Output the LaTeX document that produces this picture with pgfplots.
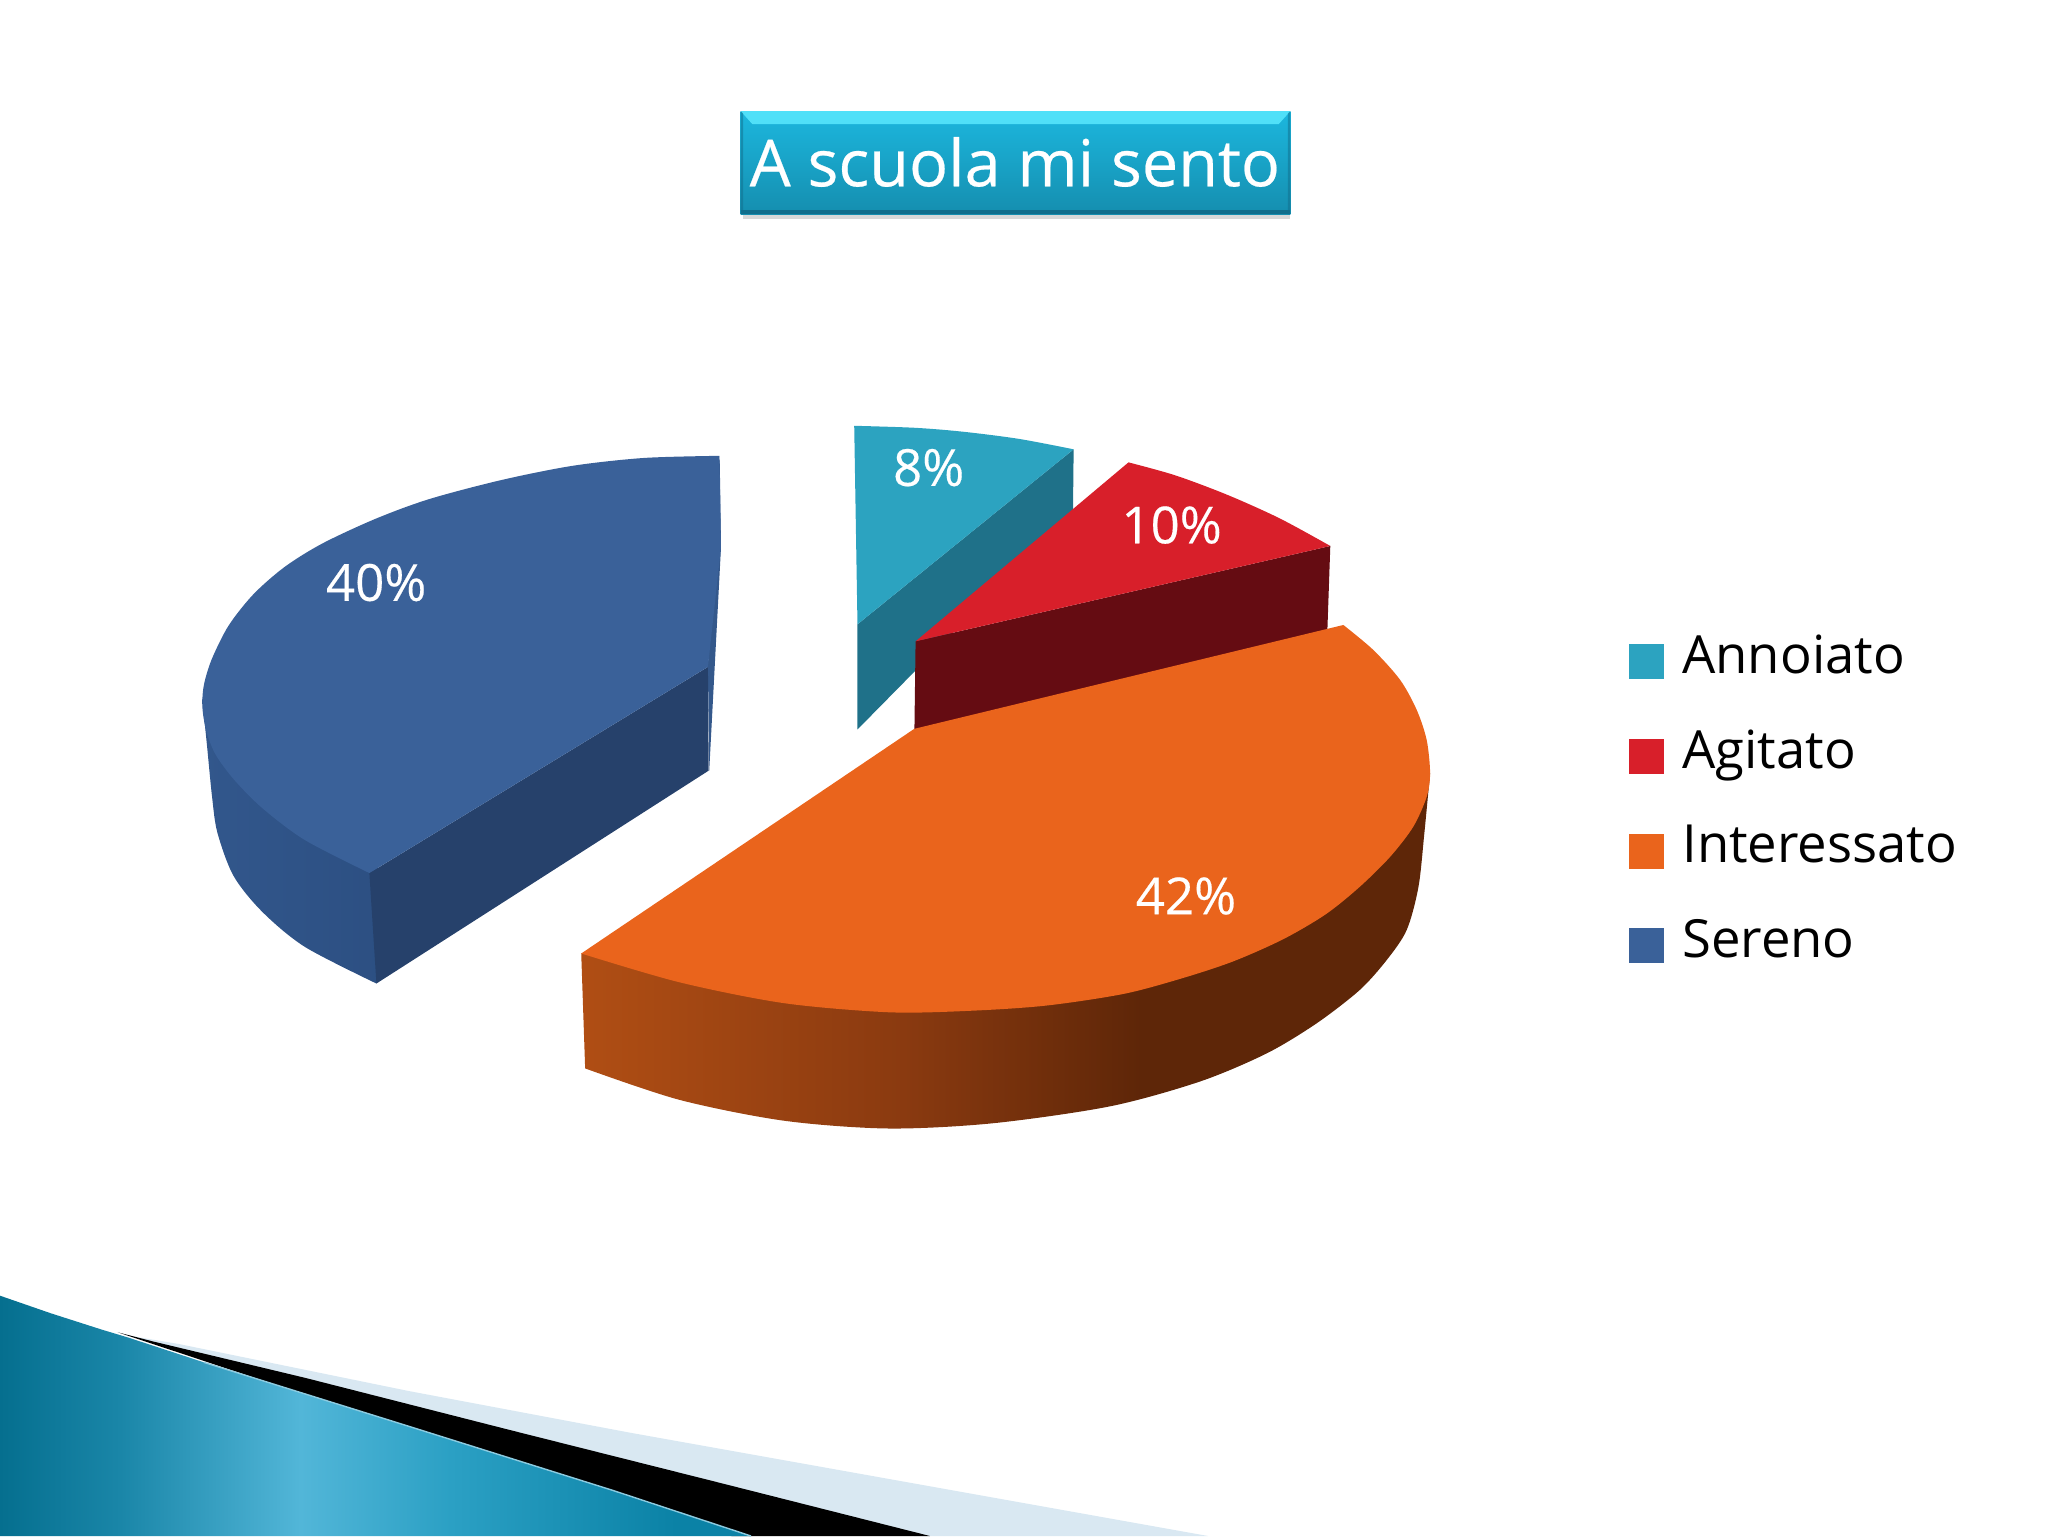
\documentclass[border=0pt]{standalone}
\usepackage{pgfplots}
\pgfplotsset{compat=1.18}
\usepackage{fontspec}
\setmainfont{Open Sans}
\newfontfamily\medfont[FakeBold=0.35]{Open Sans}
\definecolor{tealT}{HTML}{2CA3C0}
\definecolor{tealS}{HTML}{1F7189}
\definecolor{redT}{HTML}{D81F2A}
\definecolor{redS}{HTML}{650C12}
\definecolor{orangeT}{HTML}{EA641C}
\definecolor{blueT}{HTML}{3A6199}
\definecolor{blueS}{HTML}{26416B}
\definecolor{blueM}{HTML}{34588B}
\definecolor{band}{HTML}{D9E8F2}
\definecolor{boxA}{HTML}{1CB7DE}
\definecolor{boxB}{HTML}{158EAF}
\definecolor{boxL}{HTML}{50E0F8}
\definecolor{boxD}{HTML}{116E8C}
\definecolor{oa}{HTML}{B04E14}
\definecolor{ob}{HTML}{8A3A10}
\definecolor{oc}{HTML}{5E2608}
\definecolor{ba}{HTML}{32578C}
\definecolor{bb}{HTML}{2C4F82}
\definecolor{da}{HTML}{056F8F}
\definecolor{da2}{HTML}{1A86A8}
\definecolor{db}{HTML}{52B6D8}
\definecolor{dc}{HTML}{2BA0C4}
\definecolor{dd}{HTML}{0B82A6}
\definecolor{edgeL}{HTML}{8CCBE0}
\pgfdeclarehorizontalshading{orangeside}{100bp}{color(0bp)=(oa);color(25bp)=(oa);color(44bp)=(ob);color(58bp)=(oc);color(75bp)=(oc);color(100bp)=(oc)}
\pgfdeclarehorizontalshading{blueside}{100bp}{color(0bp)=(ba);color(25bp)=(ba);color(75bp)=(bb);color(100bp)=(bb)}
\pgfdeclarehorizontalshading{decor}{100bp}{color(0bp)=(da);color(25bp)=(da);color(33bp)=(da2);color(45bp)=(db);color(55bp)=(dc);color(70bp)=(dd);color(75bp)=(dd);color(100bp)=(dd)}
\begin{document}
\begin{tikzpicture}
\useasboundingbox (0,0) rectangle (1024pt,768pt);
\begin{axis}[
  scale only axis, width=1024pt, height=768pt,
  xmin=0, xmax=1568, ymin=0, ymax=1176, y dir=reverse,
  hide axis, clip=true,
  legend style={at={(axis cs:1247,465)}, anchor=north west, draw=none, fill=none,
    font=\fontsize{26.3}{30}\selectfont, inner sep=0pt,
    nodes={inner ysep=13.4pt},
    /tikz/every odd column/.append style={column sep=7pt}},
  legend cell align=left,
  legend image code/.code={\fill[#1] (0pt,-11.8pt) rectangle (17.6pt,5.8pt);},
]
% decoration
\addplot[fill=band, draw=none, forget plot] coordinates {(95,1022) (137,1029) (313,1065) (483,1097) (925,1176) (700,1176)} --cycle;
\addplot[fill=black, draw=none, forget plot] coordinates {(90,1020) (117,1027) (234,1055) (391,1095) (550,1135) (712,1176) (560,1176)} --cycle;
\addplot[shading=decor, shading angle=0, draw=none, forget plot] coordinates {(0,992) (39,1005.5) (78,1018) (98,1024) (156,1043) (313,1092) (469,1141) (575,1176) (0,1176)} --cycle;
\addplot[draw=edgeL, line width=0.7pt, forget plot] coordinates {(156,1043) (313,1092) (469,1141) (575,1176)};
% title box
\addplot[fill=gray!30, draw=none, forget plot] coordinates {(569,160) (988,160) (988,168) (569,168)} --cycle;
\addplot[top color=boxA, bottom color=boxB, draw=none, forget plot] coordinates {(567,85) (988,85) (988,164) (567,164)} --cycle;
\addplot[fill=boxL, draw=none, forget plot] coordinates {(567,85) (988,85) (979,95) (576,95)} --cycle;
\addplot[fill=boxD, draw=none, forget plot] coordinates {(567,161) (988,161) (988,164) (567,164)} --cycle;
\addplot[fill=boxD, draw=none, fill opacity=0.5, forget plot] coordinates {(567,85) (569,87) (569,164) (567,164)} --cycle;
\addplot[fill=boxD, draw=none, fill opacity=0.5, forget plot] coordinates {(988,85) (986,87) (986,164) (988,164)} --cycle;
% teal
\addplot[fill=tealS, draw=none, forget plot] coordinates {(656.5,478) (822,344) (821.5,391) (656.5,558.5)} --cycle;
\addplot[fill=tealT, draw=none, smooth] coordinates {(654,326) (700,327.5) (737,330.5) (780,336) (822,344)} -- (axis cs:656.5,478) -- cycle;
\addlegendentry{Annoiato}
% red
\addplot[fill=redS, draw=none, forget plot] coordinates {(701,491) (1018.5,418) (1016,490) (700,566)} --cycle;
\addplot[fill=redT, draw=none, smooth] coordinates {(864,354) (900,364) (940,379) (980,397) (1018.5,418)} -- (axis cs:701,491) -- cycle;
\addlegendentry{Agitato}
% orange
\addplot[shading=orangeside, draw=none, smooth, forget plot] coordinates {(1094.9,592) (1090.5,638) (1086,679) (1077,712) (1061.7,735) (1041,758) (1008,783.5) (969.8,806.5) (918.8,828) (850,847) (760,860) (680,864) (600,858) (520,842) (448,818)} -- (axis cs:445,730) -- cycle;
\addplot[fill=orangeT, draw=none, smooth] coordinates {(1028.5,478.5) (1051.5,497.7) (1072,520.6) (1084.7,543.6) (1092.3,566.6) (1094.9,592) (1092.3,610) (1082,633) (1064.3,656) (1041,679) (1015,700) (982.6,719) (944.3,736) (905,749) (860,761) (800,770) (740,774) (680,775) (600,768) (520,752) (445,730)} -- (axis cs:700,558) -- cycle;
\addlegendentry{Interessato}
% blue
\addplot[fill=blueM, draw=none, forget plot] coordinates {(551,349) (552,419) (543,590) (542,510)} --cycle;
\addplot[shading=blueside, draw=none, smooth, forget plot] coordinates {(154.8,535) (158.3,569) (162.4,610.4) (166.5,637.7) (178.8,670.6) (200.7,698) (233.5,725) (288.2,753)} -- (axis cs:296,740) -- (axis cs:292,668) -- cycle;
\addplot[fill=blueS, draw=none, forget plot] coordinates {(282.8,668.4) (542,510.6) (542.6,590) (288.2,753)} --cycle;
\addplot[fill=blueT, draw=none, smooth] coordinates {(550.8,349) (493.3,350.6) (438.6,356.6) (384,367.5) (329,382) (288,397) (247,416) (218,434) (194,455) (175,479) (162,505) (156,525) (155,542) (158,560) (165,577.6) (179,596.7) (200.7,618.6) (233.5,643.2) (282.8,668.4)} -- (axis cs:542,510.6) -- (axis cs:552,419) -- cycle;
\addlegendentry{Sereno}
\node[text=white, font=\medfont\fontsize{32.4}{40}\selectfont] at (axis cs:777,124) {A scuola mi sento};
\node[text=white, font=\medfont\fontsize{25.5}{30}\selectfont] at (axis cs:711,358) {8\%};
\node[text=white, font=\medfont\fontsize{25.5}{30}\selectfont] at (axis cs:897,402) {10\%};
\node[text=white, font=\medfont\fontsize{25.5}{30}\selectfont] at (axis cs:288,446) {40\%};
\node[text=white, font=\medfont\fontsize{25.5}{30}\selectfont] at (axis cs:908,686) {42\%};
\end{axis}
\end{tikzpicture}
\end{document}
